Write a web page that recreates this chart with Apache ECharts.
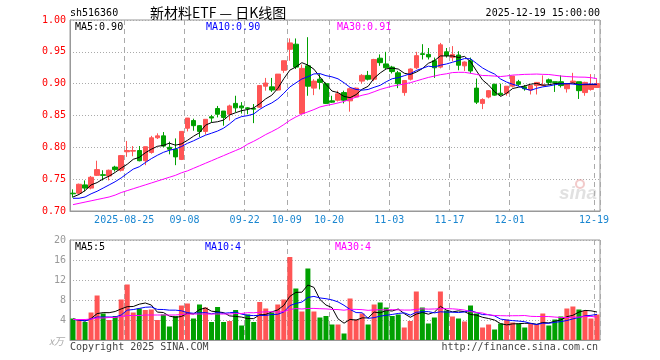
<!DOCTYPE html>
<html><head><meta charset="utf-8">
<script src="https://cdn.jsdelivr.net/npm/echarts@6/dist/echarts.min.js"></script>
<style>html,body{margin:0;padding:0;background:#fff}#c{width:660px;height:360px}</style>
</head><body><div id="c"></div>
<script>
const dates = [
'2025-08-12','2025-08-13','2025-08-14','2025-08-15','2025-08-18','2025-08-19','2025-08-20','2025-08-21','2025-08-22','2025-08-25',
'2025-08-26','2025-08-27','2025-08-28','2025-08-29','2025-09-01','2025-09-02','2025-09-03','2025-09-04','2025-09-05','2025-09-08',
'2025-09-09','2025-09-10','2025-09-11','2025-09-12','2025-09-15','2025-09-16','2025-09-17','2025-09-18','2025-09-19','2025-09-22',
'2025-09-23','2025-09-24','2025-09-25','2025-09-26','2025-09-29','2025-09-30','2025-10-09','2025-10-10','2025-10-13','2025-10-14',
'2025-10-15','2025-10-16','2025-10-17','2025-10-20','2025-10-21','2025-10-22','2025-10-23','2025-10-24','2025-10-27','2025-10-28',
'2025-10-29','2025-10-30','2025-10-31','2025-11-03','2025-11-04','2025-11-05','2025-11-06','2025-11-07','2025-11-10','2025-11-11',
'2025-11-12','2025-11-13','2025-11-14','2025-11-17','2025-11-18','2025-11-19','2025-11-20','2025-11-21','2025-11-24','2025-11-25',
'2025-11-26','2025-11-27','2025-11-28','2025-12-01','2025-12-02','2025-12-03','2025-12-04','2025-12-05','2025-12-08','2025-12-09',
'2025-12-10','2025-12-11','2025-12-12','2025-12-15','2025-12-16','2025-12-17','2025-12-18','2025-12-19'];

const opens = [.728,.728,.741,.736,.756,.757,.755,.769,.764,.793, .794,.795,.779,.792,.815,.818,.800,.797,.781,.830,
 .842,.834,.825,.848,.861,.857,.852,.869,.865,.862, .861,.863,.896,.895,.890,.921,.954,.962,.853,.928,
 .893,.907,.900,.873,.874,.886,.873,.879,.904,.913, .907,.940,.931,.926,.917,.886,.907,.925,.947,.946,
 .936,.926,.950,.941,.945,.928,.936,.893,.869,.879, .899,.885,.885,.896,.903,.895,.890,.897,.897,.906,
 .903,.903,.892,.902,.903,.886,.891,.894];
const closes = [.727,.742,.736,.753,.765,.756,.764,.765,.787,.795, .795,.779,.801,.815,.818,.802,.797,.785,.825,.846,
 .834,.825,.844,.846,.852,.847,.865,.862,.862,.861, .860,.897,.901,.890,.915,.936,.964,.926,.924,.896,
 .904,.902,.869,.871,.884,.874,.892,.893,.913,.907, .938,.933,.925,.919,.900,.905,.923,.944,.946,.942,
 .925,.961,.944,.946,.929,.934,.920,.871,.875,.889, .882,.883,.896,.912,.899,.892,.897,.902,.898,.902,
 .902,.897,.900,.904,.889,.902,.898,.900];
const lows = [.721,.727,.731,.734,.755,.748,.748,.762,.762,.785, .786,.778,.772,.790,.813,.800,.789,.772,.780,.825,
 .826,.816,.820,.839,.847,.834,.842,.855,.853,.852, .838,.862,.889,.887,.889,.917,.936,.923,.852,.881,
 .882,.891,.868,.870,.872,.869,.856,.878,.900,.905, .904,.928,.923,.916,.893,.881,.905,.923,.938,.938,
 .909,.924,.941,.935,.921,.920,.916,.868,.860,.877, .881,.881,.881,.894,.896,.889,.883,.883,.897,.898,
 .887,.894,.886,.900,.876,.881,.889,.894];
const highs = [.734,.743,.748,.755,.779,.764,.765,.771,.788,.810, .802,.802,.801,.818,.822,.824,.809,.814,.825,.846,
 .845,.835,.844,.851,.865,.857,.867,.881,.871,.863, .868,.897,.909,.909,.915,.936,.971,.971,.930,.973,
 .907,.915,.902,.881,.889,.889,.894,.894,.915,.920, .939,.946,.950,.928,.920,.905,.924,.950,.962,.956,
 .941,.964,.956,.959,.951,.935,.941,.908,.877,.890, .900,.900,.896,.912,.906,.898,.897,.902,.913,.908,
 .903,.913,.901,.917,.903,.903,.915,.907];
const volumes = [4.3,4.1,3.6,5.5,8.9,5.3,4.0,4.8,8.1,11.1, 5.5,6.3,6.0,6.1,4.0,5.1,2.7,4.8,6.9,7.3,
 4.3,7.1,6.5,3.6,6.6,3.6,3.8,6.0,2.9,5.1, 3.6,7.6,6.3,5.5,7.1,8.1,16.6,10.3,5.7,14.3,
 5.7,4.5,4.8,3.1,3.1,1.3,8.3,4.1,5.3,3.1, 7.1,7.5,6.5,4.8,5.1,2.5,3.8,9.7,6.5,3.3,
 4.5,9.7,5.9,4.7,4.3,3.7,6.9,5.3,2.5,3.1, 2.1,3.3,4.1,3.5,3.3,2.5,3.3,3.1,5.3,2.9,
 4.1,4.7,6.3,6.7,6.1,5.8,4.3,5.1];

// moving-average values before a full window exists
const ma5Head = [.722,.726,.732,.741];
const ma10Head = [.720,.720,.722,.727,.731,.736,.741,.746,.752];
const ma30Head = [.710,.712,.714,.716,.718,.720,.722,.725,.729,.732,.735,.738,.741,.744,.747,.750,.753,.756,.760,.763,.767,.771,.775,.779,.783,.787,.791,.795,.799];
const vma5Head = [4.2,4.0,3.8,4.3];
const vma10Head = [4.1,4.0,3.8,4.2,4.6,4.6,4.6,4.6,5.0];
const vma30Head = [4.1,4.1,4.1,4.2,4.4,4.4,4.5,4.5,4.7,4.9,4.9,4.9,5.0,5.0,5.0,5.0,5.0,5.0,5.1,5.2,5.2,5.2,5.2,5.2,5.2,5.2,5.2,5.3,5.3];

const tickDates = ['2025-08-25','2025-09-08','2025-09-22','2025-10-09','2025-10-20','2025-11-03','2025-11-17','2025-12-01','2025-12-19'];
const tickLabels = ['2025-08-25','09-08','09-22','10-09','10-20','11-03','11-17','12-01','12-19'];
const priceTicks = {min: 0.70, max: 1.00, interval: 0.05};
const volTicks = {min: 0, max: 20, interval: 4};
const legendMain = ['MA5:0.90','MA10:0.90','MA30:0.91'];
const legendVol = ['MA5:5','MA10:4','MA30:4'];

function movingAvg(vals, n, head){
  return vals.map((v,i)=> i < n-1 ? head[i] : +(vals.slice(i-n+1,i+1).reduce((a,b)=>a+b,0)/n).toFixed(4));
}

const UP='#ff5555', DOWN='#00a000';
const MONO='DejaVu Sans Mono';
const kdata = dates.map((d,i)=>[opens[i],closes[i],lows[i],highs[i]]);
const vdata = volumes.map((v,i)=>({value:v,itemStyle:{color: closes[i]>=opens[i]?UP:DOWN}}));

const isTick = (idx,val)=> tickDates.indexOf(val) >= 0;
const grids=[{left:70,top:20,width:530,height:191,show:true,borderColor:'#999',borderWidth:1},
             {left:70,top:240,width:530,height:100,show:true,borderColor:'#999',borderWidth:1}];
const splitV={show:true,interval:isTick,lineStyle:{color:'#aaa',type:[5,4],width:1}};
const splitH={show:true,lineStyle:{color:'#aaa',type:[1,2],width:1}};
const lineS=(name,data,color,xi)=>({name,type:'line',data,xAxisIndex:xi,yAxisIndex:xi,showSymbol:false,symbol:'none',
  lineStyle:{color,width:1},itemStyle:{color},silent:true,z:5});

function txt(x,y,text,fill,opts){
  opts=opts||{};
  return {type:'text',x,y,z:100,silent:true,style:Object.assign({text,fill,font:(opts.font||('10px '+MONO)),
    textAlign:opts.align||'left',textVerticalAlign:'middle'})};
}

const chart=echarts.init(document.getElementById('c'),null,{renderer:'canvas'});
chart.setOption({
  animation:false,
  backgroundColor:'#fff',
  grid:grids,
  xAxis:[
    {type:'category',gridIndex:0,data:dates,boundaryGap:true,
      axisLine:{lineStyle:{color:'#999'}},axisTick:{show:false},
      axisLabel:{interval:isTick,formatter:v=>tickLabels[tickDates.indexOf(v)],color:'#1a86d0',
        fontFamily:MONO,fontSize:10,margin:4,padding:[0,6,0,0]},
      splitLine:splitV},
    {type:'category',gridIndex:1,data:dates,boundaryGap:true,
      axisLine:{lineStyle:{color:'#999'}},axisTick:{show:false},axisLabel:{show:false},
      splitLine:splitV}
  ],
  yAxis:[
    {type:'value',gridIndex:0,min:priceTicks.min,max:priceTicks.max,interval:priceTicks.interval,
      axisLine:{show:true,lineStyle:{color:'#999'}},axisTick:{show:false},
      axisLabel:{color:'#ff0000',fontFamily:MONO,fontSize:10,margin:4,formatter:v=>v.toFixed(2)},
      splitLine:splitH},
    {type:'value',gridIndex:1,min:volTicks.min,max:volTicks.max,interval:volTicks.interval,
      axisLine:{show:true,lineStyle:{color:'#999'}},axisTick:{show:false},
      axisLabel:{color:'#999',fontFamily:MONO,fontSize:10,margin:4,formatter:v=>v===0?'':String(v)},
      splitLine:splitH}
  ],
  series:[
    {type:'candlestick',data:kdata,xAxisIndex:0,yAxisIndex:0,barWidth:5,
      itemStyle:{color:UP,color0:DOWN,borderColor:UP,borderColor0:DOWN,borderWidth:1},z:3},
    lineS('MA5',movingAvg(closes,5,ma5Head),'#000000',0),
    lineS('MA10',movingAvg(closes,10,ma10Head),'#0000ff',0),
    lineS('MA30',movingAvg(closes,30,ma30Head),'#ff00ff',0),
    {type:'bar',data:vdata,xAxisIndex:1,yAxisIndex:1,barWidth:5,z:3},
    lineS('VMA5',movingAvg(volumes,5,vma5Head),'#000000',1),
    lineS('VMA10',movingAvg(volumes,10,vma10Head),'#0000ff',1),
    lineS('VMA30',movingAvg(volumes,30,vma30Head),'#ff00ff',1)
  ],
  graphic:[
    txt(70,13,'sh516360','#000'),
    txt(150,13,'新材料ETF — 日K线图','#000',{font:'14px "Noto Sans CJK SC"'}),
    txt(600,13,'2025-12-19 15:00:00','#000',{align:'right'}),
    txt(75,27,legendMain[0],'#000'),
    txt(206,27,legendMain[1],'#0000ff'),
    txt(337,27,legendMain[2],'#ff00ff'),
    txt(75,247,legendVol[0],'#000'),
    txt(205,247,legendVol[1],'#0000ff'),
    txt(335,247,legendVol[2],'#ff00ff'),
    txt(64,341,'x万','#aaa',{align:'right',font:'italic 10px "Noto Sans CJK SC"'}),
    txt(70,347,'Copyright 2025 SINA.COM','#444'),
    txt(598,347,'http://finance.sina.com.cn','#444',{align:'right'}),
    {type:'circle',shape:{cx:580,cy:184,r:4},z:90,silent:true,style:{fill:'none',stroke:'rgba(230,150,150,0.5)',lineWidth:2}},
    txt(597,194,'sina','rgba(180,180,180,0.4)',{align:'right',font:'italic bold 19px "Liberation Sans"'})
  ]
});
</script></body></html>
